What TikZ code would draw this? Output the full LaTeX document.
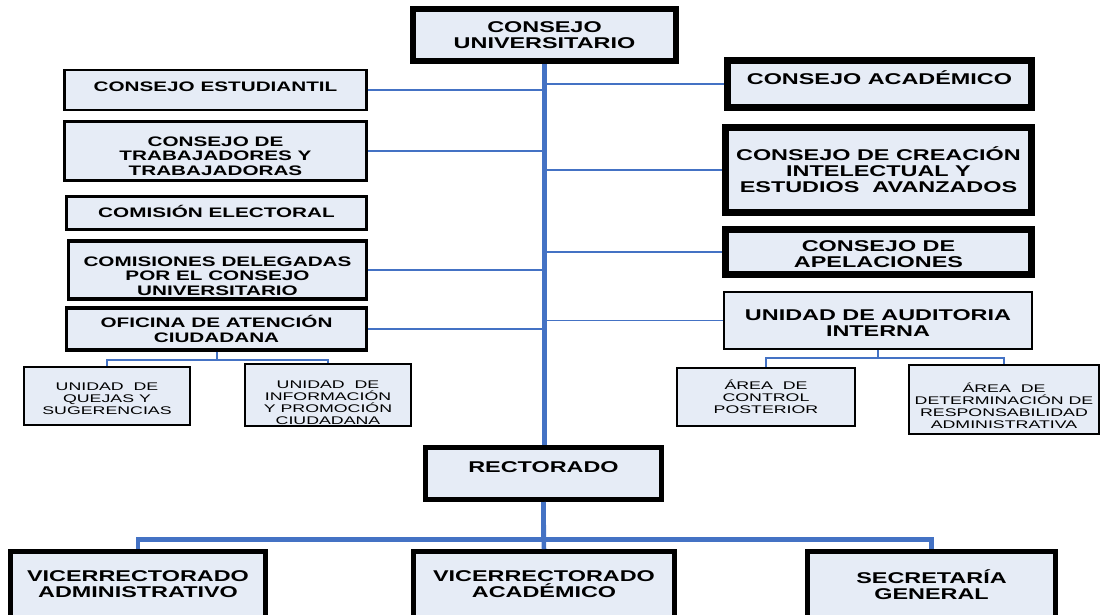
\documentclass[tikz,border=0pt]{standalone}
\usepackage{fontspec}
\setmainfont{Liberation Sans}
\newfontfamily\orgfont[FakeStretch=1.5]{Liberation Sans}
\newfontfamily\suborgfont[FakeStretch=1.6]{Liberation Sans}
\usetikzlibrary{positioning}
\definecolor{boxfill}{RGB}{230,236,246}
\definecolor{linkblue}{RGB}{68,114,196}

\begin{document}
\begin{tikzpicture}[
		x=1pt, y=-1pt,
		unit/.style={rectangle, draw=black, fill=boxfill, align=center, inner sep=0pt, font=\orgfont\bfseries\fontsize{13.8}{14.5}\selectfont},
		bigunit/.style={unit, font=\orgfont\bfseries\fontsize{15.6}{16}\selectfont},
		subunit/.style={unit, line width=1.5pt, font=\suborgfont\fontsize{11.1}{12}\selectfont},
		trunk/.style={draw=linkblue, line width=4.5pt},
		link/.style={draw=linkblue, line width=1.2pt},
		sublink/.style={draw=linkblue, line width=2pt}
		]
		\useasboundingbox (0,0) rectangle (1101,614);
		\clip (0,0) rectangle (1101,614);
		
		% Nodes
		\node[bigunit, line width=6pt, minimum width=263pt, minimum height=52pt] (cu) at (544.5,35) {CONSEJO\\UNIVERSITARIO};
		
		\node[unit, line width=2.5pt, minimum width=302pt, minimum height=40pt, text depth=6pt] (estudiantil) at (215.5,90) {CONSEJO ESTUDIANTIL};
		\node[unit, line width=2.5pt, minimum width=302pt, minimum height=59pt, text height=49pt] (trabajadores) at (215.5,151) {CONSEJO DE\\TRABAJADORES Y\\TRABAJADORAS};
		\node[unit, line width=2.5pt, minimum width=300pt, minimum height=33pt, text depth=4pt] (electoral) at (216.5,213) {COMISIÓN ELECTORAL};
		\node[unit, line width=3.5pt, minimum width=298pt, minimum height=58pt, text height=51pt] (delegadas) at (217.5,270) {COMISIONES DELEGADAS\\POR EL CONSEJO\\UNIVERSITARIO};
		\node[unit, line width=3.5pt, minimum width=300pt, minimum height=42pt] (oficina) at (216.5,329) {OFICINA DE ATENCIÓN\\CIUDADANA};
		
		\node[bigunit, line width=7pt, minimum width=304pt, minimum height=47pt, text depth=12pt] (academico) at (879.5,84) {CONSEJO ACADÉMICO};
		\node[bigunit, line width=7pt, minimum width=306pt, minimum height=85pt] (creacion) at (878.5,170) {CONSEJO DE CREACIÓN\\INTELECTUAL Y\\ESTUDIOS\ \ AVANZADOS};
		\node[bigunit, line width=7pt, minimum width=306pt, minimum height=45pt, text height=32pt] (apelaciones) at (878.5,252) {CONSEJO DE\\APELACIONES};
		\node[bigunit, line width=2pt, minimum width=308pt, minimum height=57pt, text height=31pt] (auditoria) at (878,320.5) {UNIDAD DE AUDITORIA\\INTERNA};
		
		\node[subunit, minimum width=166pt, minimum height=58pt, text height=38pt] (quejas) at (107,396) {UNIDAD\ \ DE\\QUEJAS Y\\SUGERENCIAS};
		\node[subunit, minimum width=166pt, minimum height=62pt, text height=60pt] (informacion) at (328,395) {UNIDAD\ \ DE\\INFORMACIÓN\\Y PROMOCIÓN\\CIUDADANA};
		\node[subunit, minimum width=178pt, minimum height=58pt] (control) at (766,397) {ÁREA\ \ DE\\CONTROL\\POSTERIOR};
		\node[subunit, minimum width=190pt, minimum height=69pt, text height=58pt] (determinacion) at (1004,399.5) {ÁREA\ \ DE\\DETERMINACIÓN DE\\RESPONSABILIDAD\\ADMINISTRATIVA};
		
		\node[bigunit, line width=5pt, minimum width=236pt, minimum height=52pt, text depth=12pt] (rectorado) at (543.5,473.5) {RECTORADO};
		
		\node[bigunit, line width=5pt, minimum width=255pt, minimum height=66pt] (vadmin) at (138,584.5) {VICERRECTORADO\\ADMINISTRATIVO};
		\node[bigunit, line width=5pt, minimum width=261pt, minimum height=66pt] (vacad) at (544,584.5) {VICERRECTORADO\\ACADÉMICO};
		\node[bigunit, line width=5pt, minimum width=248pt, minimum height=66pt] (secretaria) at (931.5,584.5) {SECRETARÍA\\GENERAL};
		
		% Connectors
		\draw[trunk] (cu.south) -- (cu.south |- rectorado.north);
		\foreach \n in {estudiantil, trabajadores, delegadas, oficina, academico, creacion, apelaciones, auditoria}
			\draw[link] (\n) -- (\n -| cu.south);
		
		\draw[sublink] (oficina.south) -- ++(0,8.5) -| (quejas.north);
		\draw[sublink] (oficina.south) -- ++(0,8.5) -| (informacion.north);
		\draw[sublink] (auditoria.south) -- ++(0,8) -| (control.north);
		\draw[sublink] (auditoria.south) -- ++(0,8) -| (determinacion.north);
		
		\draw[trunk] (rectorado.south) -- ++(0,37.5) -| (vadmin.north);
		\draw[trunk] (rectorado.south) -- ++(0,37.5) -| (secretaria.north);
		\draw[trunk] (rectorado.south) -- (vacad.north);
	\end{tikzpicture}
\end{document}
